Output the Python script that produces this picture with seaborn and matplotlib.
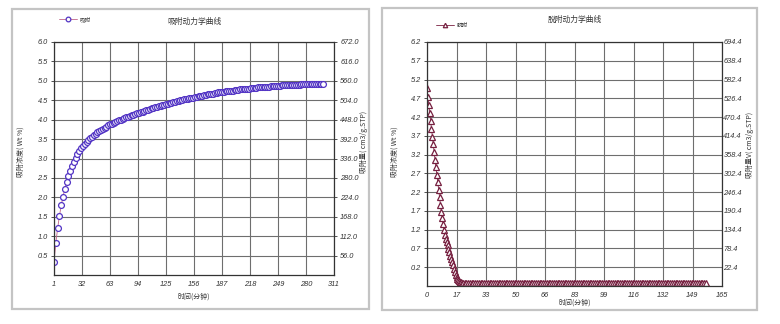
import numpy as np
import matplotlib
matplotlib.use("Agg")
import matplotlib.pyplot as plt
from matplotlib.patches import Rectangle
import seaborn as sns

sns.set_style("white")
plt.rcParams["font.family"] = ["Noto Sans CJK SC", "DejaVu Sans"]

# ---- adsorption kinetics (sampled every 2 minutes) ----
ads_time = np.arange(1, 300, 2)
ads_conc = [
    0.34, 0.82, 1.20, 1.52, 1.79, 2.02, 2.22, 2.40, 2.55, 2.69,
    2.81, 2.92, 3.02, 3.11, 3.19, 3.26, 3.32, 3.38, 3.43, 3.48,
    3.52, 3.56, 3.60, 3.64, 3.67, 3.70, 3.73, 3.76, 3.79, 3.82,
    3.85, 3.88, 3.90, 3.92, 3.94, 3.96, 3.98, 4.00, 4.02, 4.04,
    4.06, 4.08, 4.10, 4.11, 4.13, 4.15, 4.16, 4.18, 4.20, 4.21,
    4.23, 4.24, 4.26, 4.27, 4.29, 4.30, 4.32, 4.33, 4.34, 4.36,
    4.37, 4.38, 4.40, 4.41, 4.42, 4.44, 4.45, 4.46, 4.47, 4.48,
    4.50, 4.51, 4.52, 4.53, 4.54, 4.55, 4.56, 4.57, 4.58, 4.59,
    4.60, 4.61, 4.62, 4.63, 4.64, 4.65, 4.66, 4.67, 4.67, 4.68,
    4.69, 4.70, 4.70, 4.71, 4.72, 4.73, 4.73, 4.74, 4.75, 4.75,
    4.76, 4.76, 4.77, 4.78, 4.78, 4.79, 4.79, 4.80, 4.80, 4.81,
    4.81, 4.82, 4.82, 4.83, 4.83, 4.84, 4.84, 4.84, 4.85, 4.85,
    4.86, 4.86, 4.86, 4.87, 4.87, 4.87, 4.88, 4.88, 4.88, 4.89,
    4.89, 4.89, 4.89, 4.90, 4.90, 4.90, 4.90, 4.91, 4.91, 4.91,
    4.91, 4.92, 4.92, 4.92, 4.92, 4.92, 4.93, 4.93, 4.93, 4.93,
]

# ---- desorption kinetics (0.5 min steps to 20 min, then 1 min) ----
des_time = np.concatenate([np.arange(0, 20.5, 0.5), np.arange(21, 157, 1)])
des_conc = [
    4.97, 4.74, 4.52, 4.31, 4.10, 3.89, 3.68, 3.47, 3.27, 3.06,
    2.86, 2.66, 2.46, 2.26, 2.06, 1.87, 1.68, 1.52, 1.36, 1.20,
    1.05, 0.96, 0.87, 0.78, 0.69, 0.60, 0.51, 0.42, 0.34, 0.25,
    0.16, 0.07, -0.01, -0.07, -0.12, -0.15, -0.17, -0.19, -0.20, -0.21,
    -0.21,
    -0.22, -0.21, -0.22, -0.22, -0.23, -0.22, -0.21, -0.22, -0.22, -0.22,
    -0.21, -0.22, -0.23, -0.22, -0.22, -0.21, -0.22, -0.22, -0.23, -0.22,
    -0.22, -0.21, -0.22, -0.22, -0.22, -0.23, -0.22, -0.21, -0.22, -0.22,
    -0.22, -0.22, -0.21, -0.22, -0.23, -0.22, -0.22, -0.22, -0.21, -0.22,
    -0.22, -0.23, -0.22, -0.22, -0.21, -0.22, -0.22, -0.22, -0.23, -0.22,
    -0.21, -0.22, -0.22, -0.22, -0.22, -0.21, -0.23, -0.22, -0.22, -0.22,
    -0.22, -0.21, -0.22, -0.23, -0.22, -0.22, -0.22, -0.21, -0.22, -0.22,
    -0.23, -0.22, -0.22, -0.21, -0.22, -0.22, -0.22, -0.23, -0.22, -0.21,
    -0.22, -0.22, -0.22, -0.22, -0.21, -0.23, -0.22, -0.22, -0.22, -0.21,
    -0.22, -0.22, -0.23, -0.22, -0.22, -0.21, -0.22, -0.22, -0.22, -0.23,
    -0.22, -0.21, -0.22, -0.22, -0.22, -0.22, -0.23, -0.21, -0.22, -0.22,
    -0.22, -0.22, -0.21, -0.22, -0.23, -0.22, -0.22, -0.22, -0.21, -0.22,
    -0.22, -0.23, -0.22, -0.22, -0.21, -0.22, -0.22, -0.22, -0.22, -0.23,
    -0.22, -0.21, -0.22, -0.22, -0.22, -0.22,
]

# ---- tick definitions ----
ads_xticks = [1, 32, 63, 94, 125, 156, 187, 218, 249, 280, 311]
ads_yticks = [0.5, 1.0, 1.5, 2.0, 2.5, 3.0, 3.5, 4.0, 4.5, 5.0, 5.5, 6.0]
ads_y2ticks = [56.0, 112.0, 168.0, 224.0, 280.0, 336.0, 392.0, 448.0, 504.0, 560.0, 616.0, 672.0]

des_xticks = [0, 16.5, 33, 49.5, 66, 82.5, 99, 115.5, 132, 148.5, 165]
des_xlabels = ["0", "17", "33", "50", "66", "83", "99", "116", "132", "149", "165"]
des_yticks = [0.2, 0.7, 1.2, 1.7, 2.2, 2.7, 3.2, 3.7, 4.2, 4.7, 5.2, 5.7, 6.2]
des_y2ticks = [22.4, 78.4, 134.4, 190.4, 246.4, 302.4, 358.4, 414.4, 470.4, 526.4, 582.4, 638.4, 694.4]

W, H = 780, 324
fig = plt.figure(figsize=(W / 100, H / 100), dpi=100)
fig.patch.set_facecolor("white")


def fx(px):
    return px / W


def fy(px):
    return 1 - px / H


# panel frames
for x0, y0, x1, y1 in [(12, 9, 369, 309), (382, 8, 757, 310)]:
    fig.patches.append(Rectangle((fx(x0), fy(y1)), fx(x1 - x0), (y1 - y0) / H,
                                 transform=fig.transFigure, fill=False,
                                 edgecolor="#c4c4c4", lw=1.6))

tick_font = dict(family="Liberation Sans", style="italic", size=5.3)
GRID = "#6e6e6e"
TXT = "#333333"


def style_axes(ax):
    ax.grid(True, color=GRID, lw=0.8)
    for s in ax.spines.values():
        s.set_color("#333333")
        s.set_linewidth(0.9)
    ax.tick_params(axis="both", length=2.5, width=0.6, color="#333333", pad=2)
    for lab in ax.get_xticklabels() + ax.get_yticklabels():
        lab.set_fontproperties(tick_font)
        lab.set_color(TXT)


# ---------------- adsorption panel ----------------
ax1 = fig.add_axes([fx(54), fy(275), fx(280), 233 / H])
sns.lineplot(x=ads_time, y=ads_conc, ax=ax1, color="#c06488", linewidth=0.6,
             marker="o", markersize=4.2, markerfacecolor="white",
             markeredgecolor="#5234c4", markeredgewidth=0.9, label="吸附",
             legend=False)
ax1.set_xlim(1, 311)
ax1.set_ylim(0, 6.0)
ax1.set_xticks(ads_xticks)
ax1.set_xticklabels([str(v) for v in ads_xticks])
ax1.set_yticks(ads_yticks)
ax1.set_yticklabels([f"{v:.1f}" for v in ads_yticks])
ax1.set_xlabel("")
ax1.set_ylabel("")
style_axes(ax1)

ax1r = ax1.twinx()
ax1r.set_ylim(0, 672)
ax1r.set_yticks(ads_y2ticks)
ax1r.set_yticklabels([f"{v:.1f}" for v in ads_y2ticks])
ax1r.tick_params(axis="y", length=2.5, width=0.6, color="#333333", pad=2)
for lab in ax1r.get_yticklabels():
    lab.set_fontproperties(tick_font)
    lab.set_color(TXT)
for s in ax1r.spines.values():
    s.set_visible(False)

h1, l1 = ax1.get_legend_handles_labels()
fig.legend(h1, l1, loc="center left", bbox_to_anchor=(fx(56), fy(19)),
           frameon=False, fontsize=4, handlelength=3.2, handletextpad=0.5,
           borderpad=0, labelcolor=TXT, markerscale=0.8)

fig.text(fx(195), fy(22), "吸附动力学曲线", ha="center", va="center",
         fontsize=5.6, color=TXT, style="italic")
fig.text(fx(194), fy(297), "时间(分钟)", ha="center", va="center",
         fontsize=5, color=TXT, style="italic")
fig.text(fx(21), fy(152), "吸附浓度( Wt %)", ha="center", va="center",
         rotation=90, fontsize=5, color=TXT, style="italic")
fig.text(fx(364), fy(142), "吸附量( cm3/g.STP)", ha="center", va="center",
         rotation=90, fontsize=5, color=TXT, style="italic")

# ---------------- desorption panel ----------------
ax2 = fig.add_axes([fx(427), fy(286), fx(295), 244 / H])
sns.lineplot(x=des_time, y=des_conc, ax=ax2, color="#7a2042", linewidth=0.6,
             marker="^", markersize=4.0, markerfacecolor="white",
             markeredgecolor="#762040", markeredgewidth=0.9, label="脱附",
             legend=False)
ax2.set_xlim(0, 165)
ax2.set_ylim(-0.3, 6.2)
ax2.set_xticks(des_xticks)
ax2.set_xticklabels(des_xlabels)
ax2.set_yticks(des_yticks)
ax2.set_yticklabels([f"{v:.1f}" for v in des_yticks])
ax2.set_xlabel("")
ax2.set_ylabel("")
style_axes(ax2)
ax2.tick_params(axis="x", pad=1.5)

ax2r = ax2.twinx()
ax2r.set_ylim(-33.6, 694.4)
ax2r.set_yticks(des_y2ticks)
ax2r.set_yticklabels([f"{v:.1f}" for v in des_y2ticks])
ax2r.tick_params(axis="y", length=0, pad=1)
for lab in ax2r.get_yticklabels():
    lab.set_fontproperties(tick_font)
    lab.set_color(TXT)
for s in ax2r.spines.values():
    s.set_visible(False)

h2, l2 = ax2.get_legend_handles_labels()
fig.legend(h2, l2, loc="center left", bbox_to_anchor=(fx(433), fy(25)),
           frameon=False, fontsize=4, handlelength=3.2, handletextpad=0.5,
           borderpad=0, labelcolor=TXT, markerscale=0.8)

fig.text(fx(575), fy(20), "脱附动力学曲线", ha="center", va="center",
         fontsize=5.6, color=TXT, style="italic")
fig.text(fx(575), fy(303), "时间(分钟)", ha="center", va="center",
         fontsize=5, color=TXT, style="italic")
fig.text(fx(395), fy(152), "吸附浓度( Wt %)", ha="center", va="center",
         rotation=90, fontsize=5, color=TXT, style="italic")
fig.text(fx(750), fy(145), "吸附量V( cm3/g.STP)", ha="center", va="center",
         rotation=90, fontsize=5, color=TXT, style="italic")

fig.savefig("out.png", dpi=100, facecolor="white")
